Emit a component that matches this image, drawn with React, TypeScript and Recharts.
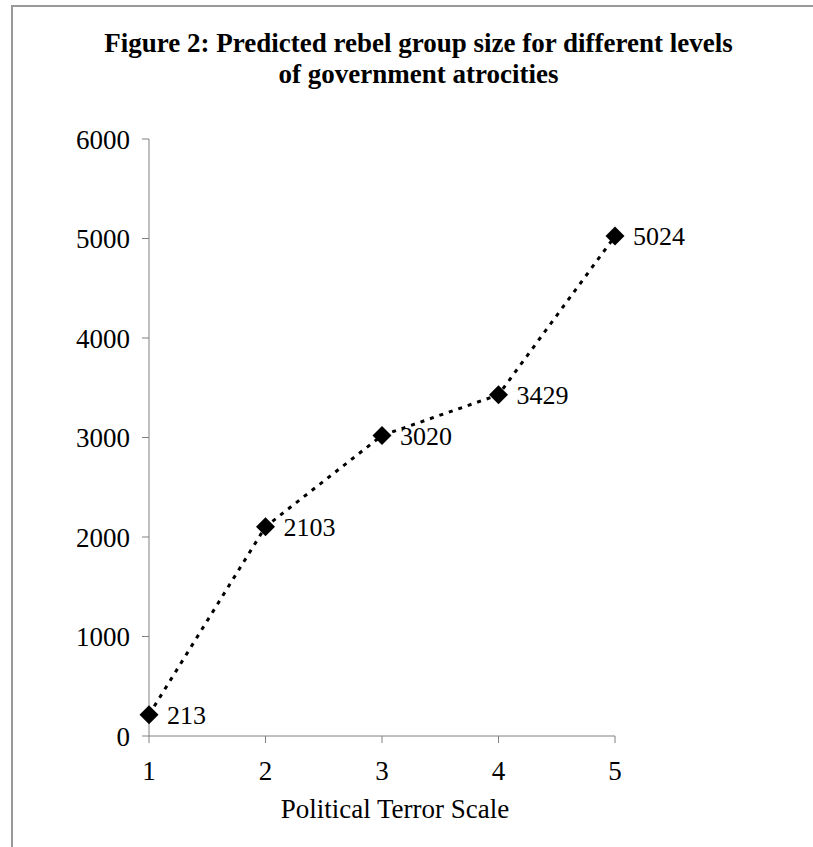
import React from "react";
import { LineChart, Line, XAxis, YAxis, LabelList } from "recharts";

// Political Terror Scale levels and predicted rebel group size
const levels = [1, 2, 3, 4, 5];
const predictedSize = [213, 2103, 3020, 3429, 5024];
const yTicks = [0, 1000, 2000, 3000, 4000, 5000, 6000];

const data = levels.map((pts, i) => ({ pts, size: predictedSize[i] }));

const FONT = '"Liberation Serif", "Times New Roman", serif';
const AXIS = "#808080";

const Diamond = (props: any) => {
  const { cx, cy, index } = props;
  if (cx == null || cy == null) return null;
  const r = 9.5;
  return (
    <polygon
      key={`d-${index}`}
      points={`${cx},${cy - r} ${cx + r},${cy} ${cx},${cy + r} ${cx - r},${cy}`}
      fill="#000"
    />
  );
};

export default function App() {
  return (
    <div
      style={{
        position: "absolute",
        left: 0,
        top: 0,
        width: 813,
        height: 847,
        background: "#fff",
        fontFamily: FONT,
        overflow: "hidden",
      }}
    >
      <div style={{ position: "absolute", left: 11, top: 5, width: 802, height: 2, background: "#999" }} />
      <div style={{ position: "absolute", left: 11, top: 5, width: 2, height: 842, background: "#999" }} />
      <div
        style={{
          position: "absolute",
          left: 0,
          top: 28,
          width: 837,
          textAlign: "center",
          fontWeight: "bold",
          fontSize: 27,
          lineHeight: "31px",
          color: "#000",
        }}
      >
        Figure 2: Predicted rebel group size for different levels
        <br />
        of government atrocities
      </div>
      <LineChart
        width={813}
        height={847}
        data={data}
        margin={{ top: 139, right: 198, bottom: 0, left: 0 }}
        style={{ position: "absolute", left: 0, top: 0 }}
      >
        <XAxis
          dataKey="pts"
          type="number"
          domain={[1, 5]}
          ticks={levels}
          height={111}
          tickSize={7}
          tickMargin={18}
          stroke={AXIS}
          tick={{ fill: "#000", fontSize: 27, fontFamily: FONT }}
          label={{
            value: "Political Terror Scale",
            position: "insideBottom",
            offset: 29,
            dx: 13,
            fill: "#000",
            fontSize: 27,
            fontFamily: FONT,
          }}
        />
        <YAxis
          type="number"
          domain={[0, 6000]}
          ticks={yTicks}
          width={149}
          tickSize={7}
          tickMargin={12}
          stroke={AXIS}
          tick={{ fill: "#000", fontSize: 27, fontFamily: FONT }}
        />
        <Line
          type="linear"
          dataKey="size"
          stroke="#000"
          strokeWidth={3}
          strokeDasharray="4 6"
          dot={Diamond}
          activeDot={false}
          isAnimationActive={false}
        >
          <LabelList
            dataKey="size"
            position="right"
            offset={18}
            fill="#000"
            fontSize={26}
            fontFamily={FONT}
          />
        </Line>
      </LineChart>
    </div>
  );
}
